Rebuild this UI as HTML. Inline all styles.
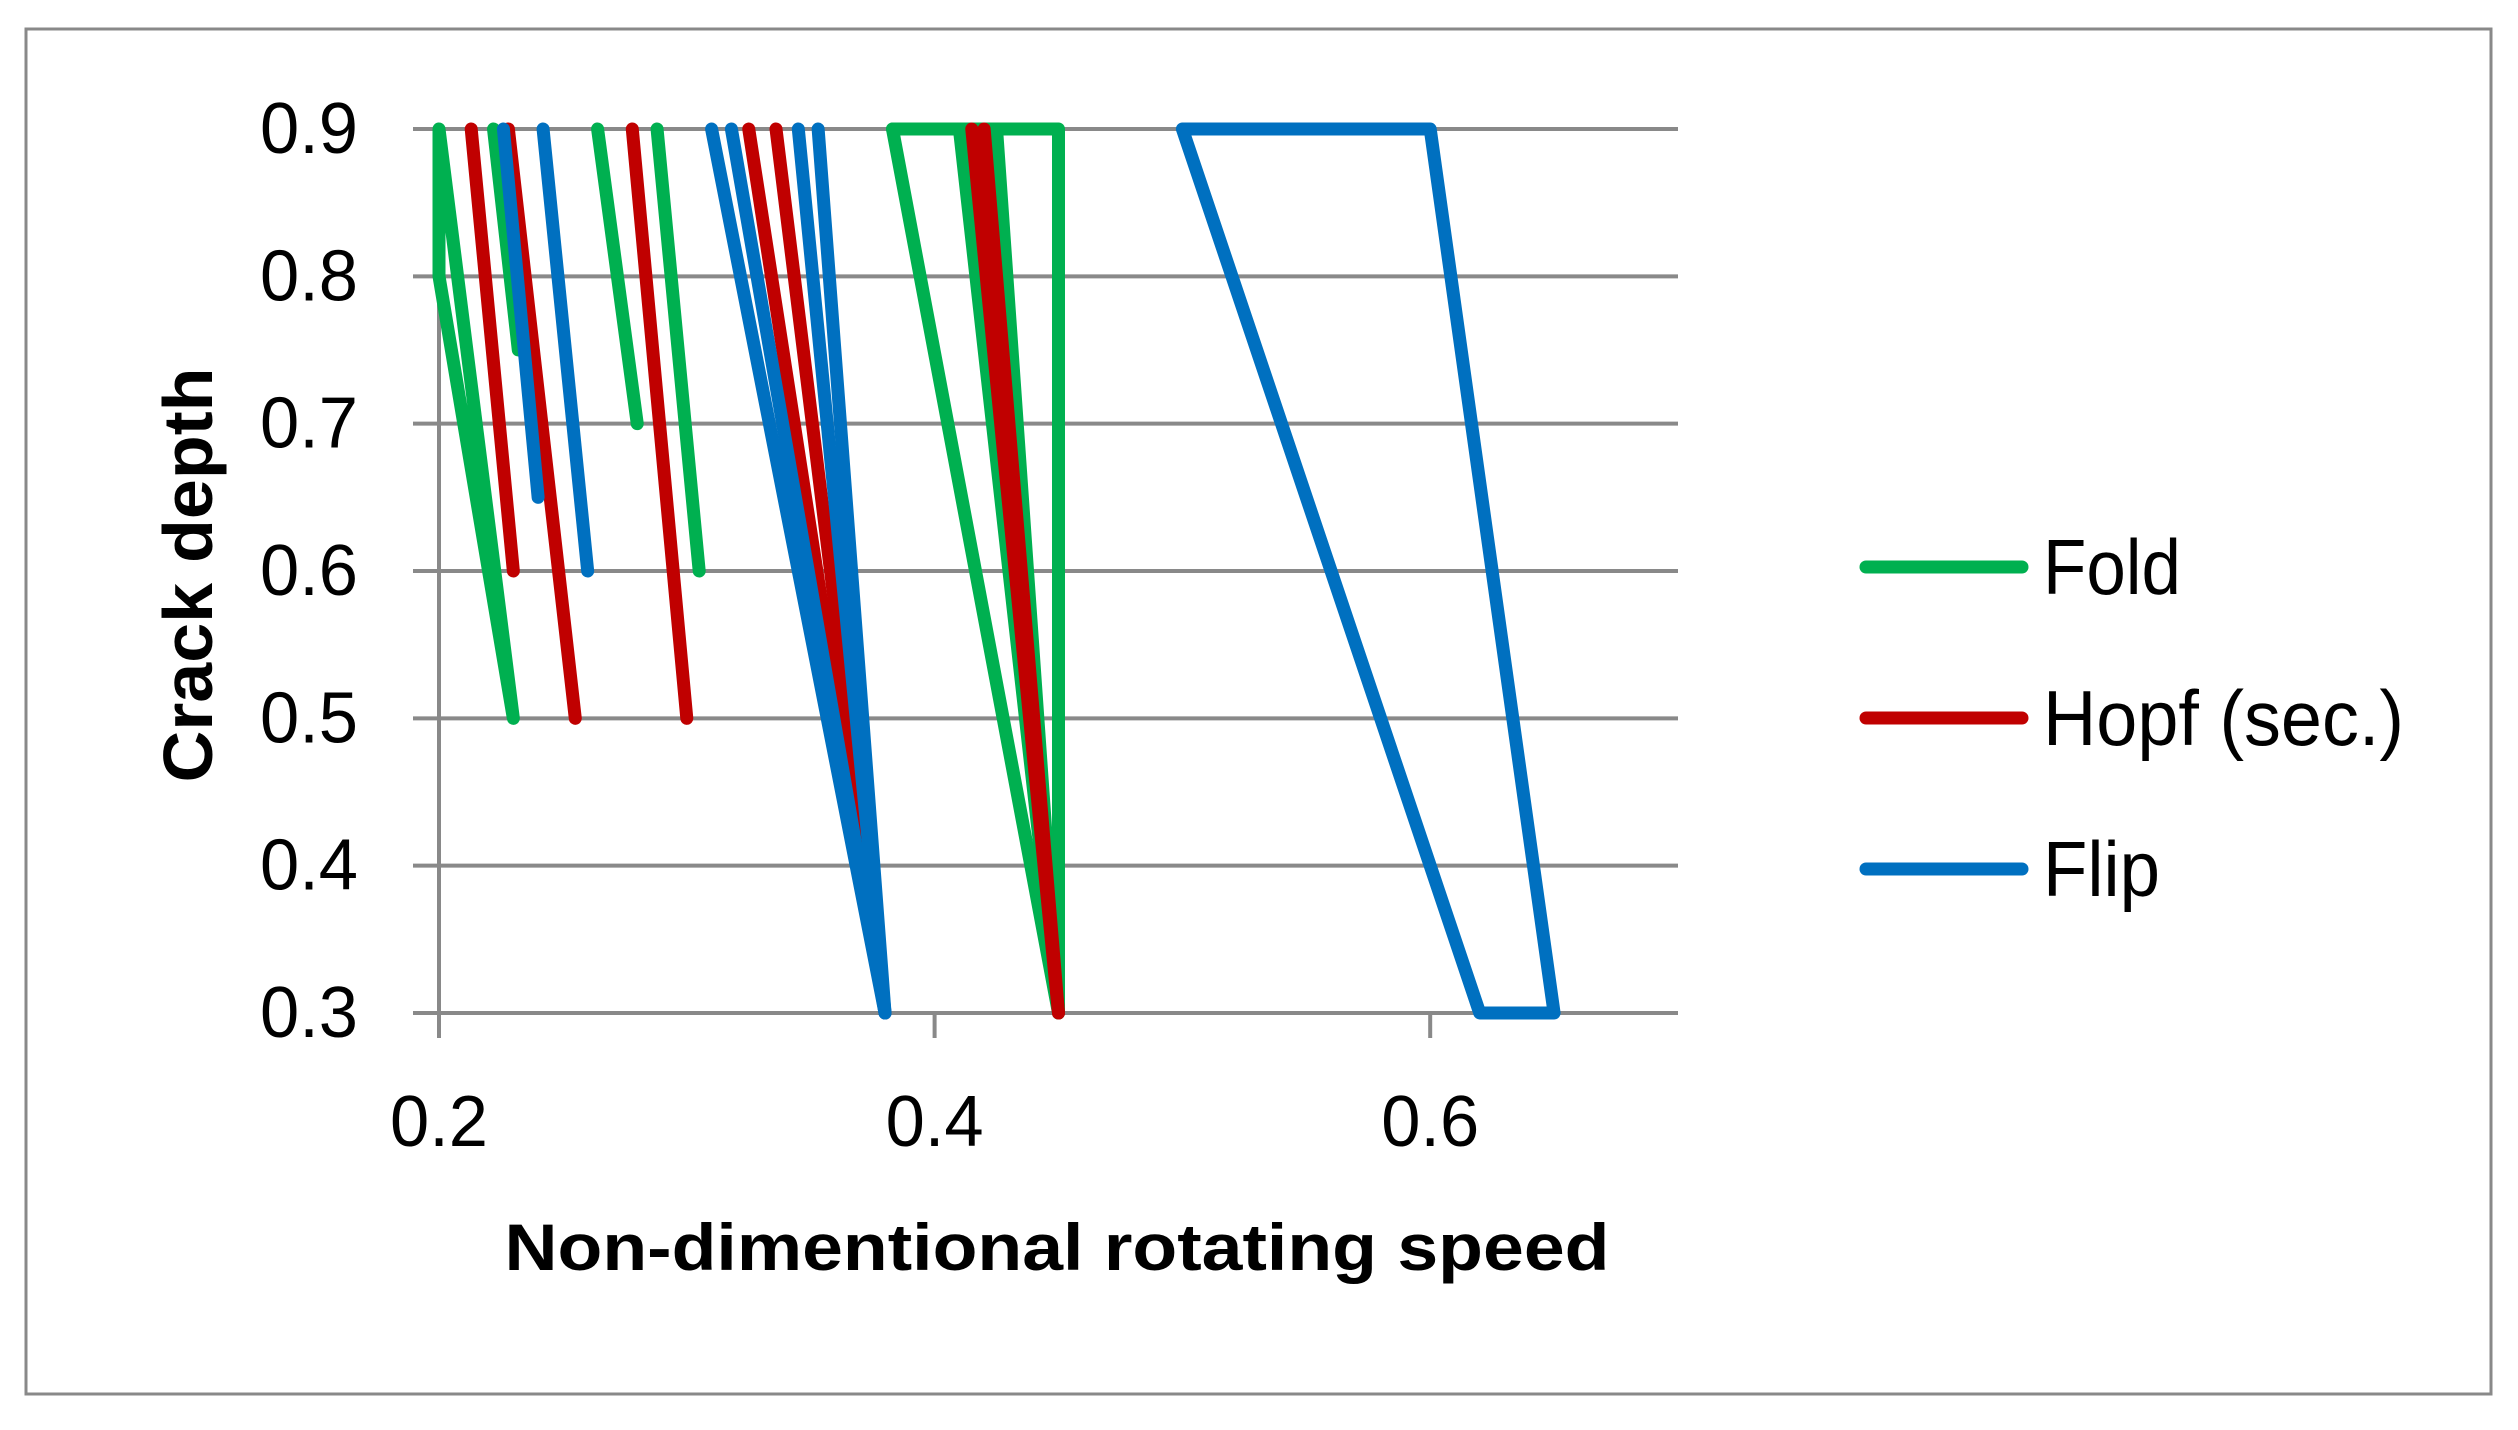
<!DOCTYPE html>
<html><head><meta charset="utf-8"><style>
html,body{margin:0;padding:0;background:#fff;}
svg{display:block;font-family:"Liberation Sans",sans-serif;}
</style></head><body>
<svg id="chart" width="2518" height="1430" viewBox="0 0 2518 1430" xmlns="http://www.w3.org/2000/svg">
<rect x="26" y="29" width="2465" height="1365" fill="#fff" stroke="#898989" stroke-width="3"/>
<g id="grid"></g><g id="series"></g><g id="axes"></g>
<text x="1057" y="1270" font-size="66" font-weight="bold" text-anchor="middle" textLength="1105" lengthAdjust="spacingAndGlyphs">Non-dimentional rotating speed</text>
<text transform="translate(212,575) rotate(-90)" font-size="70" font-weight="bold" text-anchor="middle" textLength="415" lengthAdjust="spacingAndGlyphs">Crack depth</text>
<g id="legend"></g>
</svg>
<script>
const xTicks=[0.2,0.4,0.6];
const yTicks=[0.3,0.4,0.5,0.6,0.7,0.8,0.9];
const seriesNames=["Fold","Hopf (sec.)","Flip"];
const seriesColors=["#00b050","#c00000","#0070c0"];
const legendWidths=[138,361,117];
const foldSegs=[
 [[0.2,0.9],[0.2,0.8],[0.23,0.5],[0.2,0.9]],
 [[0.222,0.9],[0.232,0.75]],
 [[0.264,0.9],[0.28,0.7]],
 [[0.288,0.9],[0.305,0.6]],
 [[0.383,0.9],[0.45,0.3]],
 [[0.383,0.9],[0.45,0.9],[0.45,0.3]],
 [[0.41,0.9],[0.45,0.3]],
 [[0.425,0.9],[0.45,0.3]]
];
const hopfSegs=[
 [[0.213,0.9],[0.23,0.6]],
 [[0.228,0.9],[0.255,0.5]],
 [[0.278,0.9],[0.3,0.5]],
 [[0.325,0.9],[0.38,0.3]],
 [[0.336,0.9],[0.38,0.3]],
 [[0.415,0.9],[0.45,0.3]],
 [[0.42,0.9],[0.45,0.3]]
];
const flipSegs=[
 [[0.226,0.9],[0.24,0.65]],
 [[0.242,0.9],[0.26,0.6]],
 [[0.31,0.9],[0.38,0.3]],
 [[0.318,0.9],[0.38,0.3]],
 [[0.345,0.9],[0.38,0.3]],
 [[0.353,0.9],[0.38,0.3]],
 [[0.5,0.9],[0.6,0.9],[0.65,0.3],[0.62,0.3],[0.5,0.9]]
];
const allSegs=[foldSegs,hopfSegs,flipSegs];
const NS="http://www.w3.org/2000/svg";
const X0=439,X1=1678,Y0=1013,Y1=129;
function sx(v){return X0+(v-0.2)/(0.7-0.2)*(X1-X0);}
function sy(v){return Y0-(v-0.3)/(0.9-0.3)*(Y0-Y1);}
function mk(t,a,p){const e=document.createElementNS(NS,t);for(const k in a)e.setAttribute(k,a[k]);p.appendChild(e);return e;}
const grid=document.getElementById('grid'),axes=document.getElementById('axes'),ser=document.getElementById('series'),leg=document.getElementById('legend');
yTicks.forEach(v=>{
 const l=mk('line',{x1:413,x2:X1,y1:sy(v),y2:sy(v),stroke:'#898989','stroke-width':4},grid);
 
 
 const t=mk('text',{x:358,y:sy(v)+24,'font-size':72,'text-anchor':'end',fill:'#000',textLength:98,lengthAdjust:'spacingAndGlyphs'},axes);
 t.textContent=v.toFixed(1);
 
 
});
const ya=mk('line',{x1:X0,x2:X0,y1:Y1,y2:1038,stroke:'#898989','stroke-width':4},grid);


xTicks.forEach(v=>{
 const l=mk('line',{x1:sx(v),x2:sx(v),y1:Y0,y2:1038,stroke:'#898989','stroke-width':4},grid);
 
 
 const t=mk('text',{x:sx(v),y:1146,'font-size':72,'text-anchor':'middle',fill:'#000',textLength:98,lengthAdjust:'spacingAndGlyphs'},axes);
 t.textContent=v.toFixed(1);
 
 
});
allSegs.forEach((segs,i)=>{
 segs.forEach(s=>{
  const p=mk('polyline',{points:s.map(d=>sx(d[0])+','+sy(d[1])).join(' '),fill:'none',stroke:seriesColors[i],'stroke-width':13,'stroke-linejoin':'round','stroke-linecap':'round'},ser);
  
  
 });
 const ly=567+i*151;
 const ll=mk('line',{x1:1866,x2:2022,y1:ly,y2:ly,stroke:seriesColors[i],'stroke-width':13,'stroke-linecap':'round'},leg);
 
 
 const lt=mk('text',{x:2043,y:ly+27,'font-size':78,fill:'#000',textLength:legendWidths[i],lengthAdjust:'spacingAndGlyphs'},leg);
 lt.textContent=seriesNames[i];
 
 
});
</script>
</body></html>
